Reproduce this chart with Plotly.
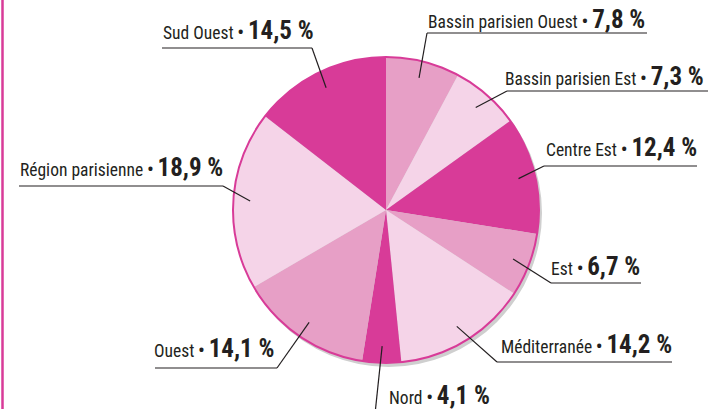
import math
import plotly.graph_objects as go

# ---- data ----
regions = ["Bassin parisien Ouest", "Bassin parisien Est", "Centre Est", "Est",
           "Méditerranée", "Nord", "Ouest", "Région parisienne", "Sud Ouest"]
shares = [7.8, 7.3, 12.4, 6.7, 14.2, 4.1, 14.1, 18.9, 14.5]
share_labels = ["7,8 %", "7,3 %", "12,4 %", "6,7 %", "14,2 %", "4,1 %", "14,1 %", "18,9 %", "14,5 %"]

# ---- styles / layout ----
W, H = 708, 409
MAGENTA = "#d83b98"
MEDIUM = "#e79fc6"
LIGHT = "#f5d4e8"
slice_colors = [MEDIUM, LIGHT, MAGENTA, MEDIUM, LIGHT, MAGENTA, MEDIUM, LIGHT, MAGENTA]
TEXT = "#231f20"
FONT = "Roboto Condensed, Roboto, sans-serif"
CX, CY, R = 386, 210, 153

# label placement: (text left, text centre y, underline y, underline x0, x1, joint side)
label_pos = [
    (428, 20, 33, 427, 647, "left"),
    (505, 77, 91, 507, 708, "left"),
    (546, 148, 166, 544, 697, "left"),
    (551, 267, 283, 551, 641, "left"),
    (501, 345, 362, 497, 672, "left"),
    (389, 396, 414, 375, 500, "left"),
    (154, 349, 368, 155, 277, "right"),
    (20, 168, 186, 19, 223, "right"),
    (163, 31, 48, 162, 312, "right"),
]


def px(x):
    return x / W


def py(y):
    return 1 - y / H


fig = go.Figure()
fig.add_trace(go.Pie(
    labels=regions, values=shares, sort=False, direction="clockwise", rotation=0,
    marker=dict(colors=slice_colors, line=dict(width=0)),
    textinfo="none", hoverinfo="label+percent", showlegend=False,
    domain=dict(x=[px(CX - R), px(CX + R)], y=[py(CY + R), py(CY - R)]),
))

shapes = []
shapes.append(dict(type="line", xref="paper", yref="paper", x0=px(2.5), x1=px(2.5), y0=0, y1=1,
                   line=dict(color=MAGENTA, width=2.5)))
shapes.append(dict(type="circle", xref="paper", yref="paper", layer="below",
                   x0=px(CX - R + 2), x1=px(CX + R + 3), y0=py(CY + R + 4), y1=py(CY - R + 2),
                   fillcolor="#cfcfcf", line=dict(width=0)))
shapes.append(dict(type="circle", xref="paper", yref="paper", layer="above",
                   x0=px(CX - R), x1=px(CX + R), y0=py(CY + R), y1=py(CY - R),
                   line=dict(color=MAGENTA, width=2)))

annotations = []
cum = 0.0
total = sum(shares)
for name, val, lab, (tx, tcy, uy, x0, x1, side) in zip(regions, shares, share_labels, label_pos):
    mid = (cum + val / 2) / total * 2 * math.pi
    cum += val
    ix = CX + 0.89 * R * math.sin(mid)
    iy = CY - 0.89 * R * math.cos(mid)
    jx = x0 if side == "left" else x1
    shapes.append(dict(type="line", xref="paper", yref="paper", layer="above",
                       x0=px(ix), y0=py(iy), x1=px(jx), y1=py(uy),
                       line=dict(color=TEXT, width=1.2)))
    shapes.append(dict(type="line", xref="paper", yref="paper", layer="above",
                       x0=px(x0), y0=py(uy), x1=px(x1), y1=py(uy),
                       line=dict(color=TEXT, width=1.2)))
    annotations.append(dict(
        xref="paper", yref="paper", x=px(tx - 2), y=py(tcy + 16), xanchor="left", yanchor="bottom",
        showarrow=False, align="left",
        text=f"{name} <b>•</b> <b><span style='font-size:25px'>{lab}</span></b>",
        font=dict(family=FONT, size=17.5, color=TEXT),
    ))

fig.update_layout(
    width=W, height=H, margin=dict(l=0, r=0, t=0, b=0),
    paper_bgcolor="white", plot_bgcolor="white",
    shapes=shapes, annotations=annotations,
)
fig.write_html("out.html", post_script="document.body.style.margin='0';",
               config={"displayModeBar": False})
